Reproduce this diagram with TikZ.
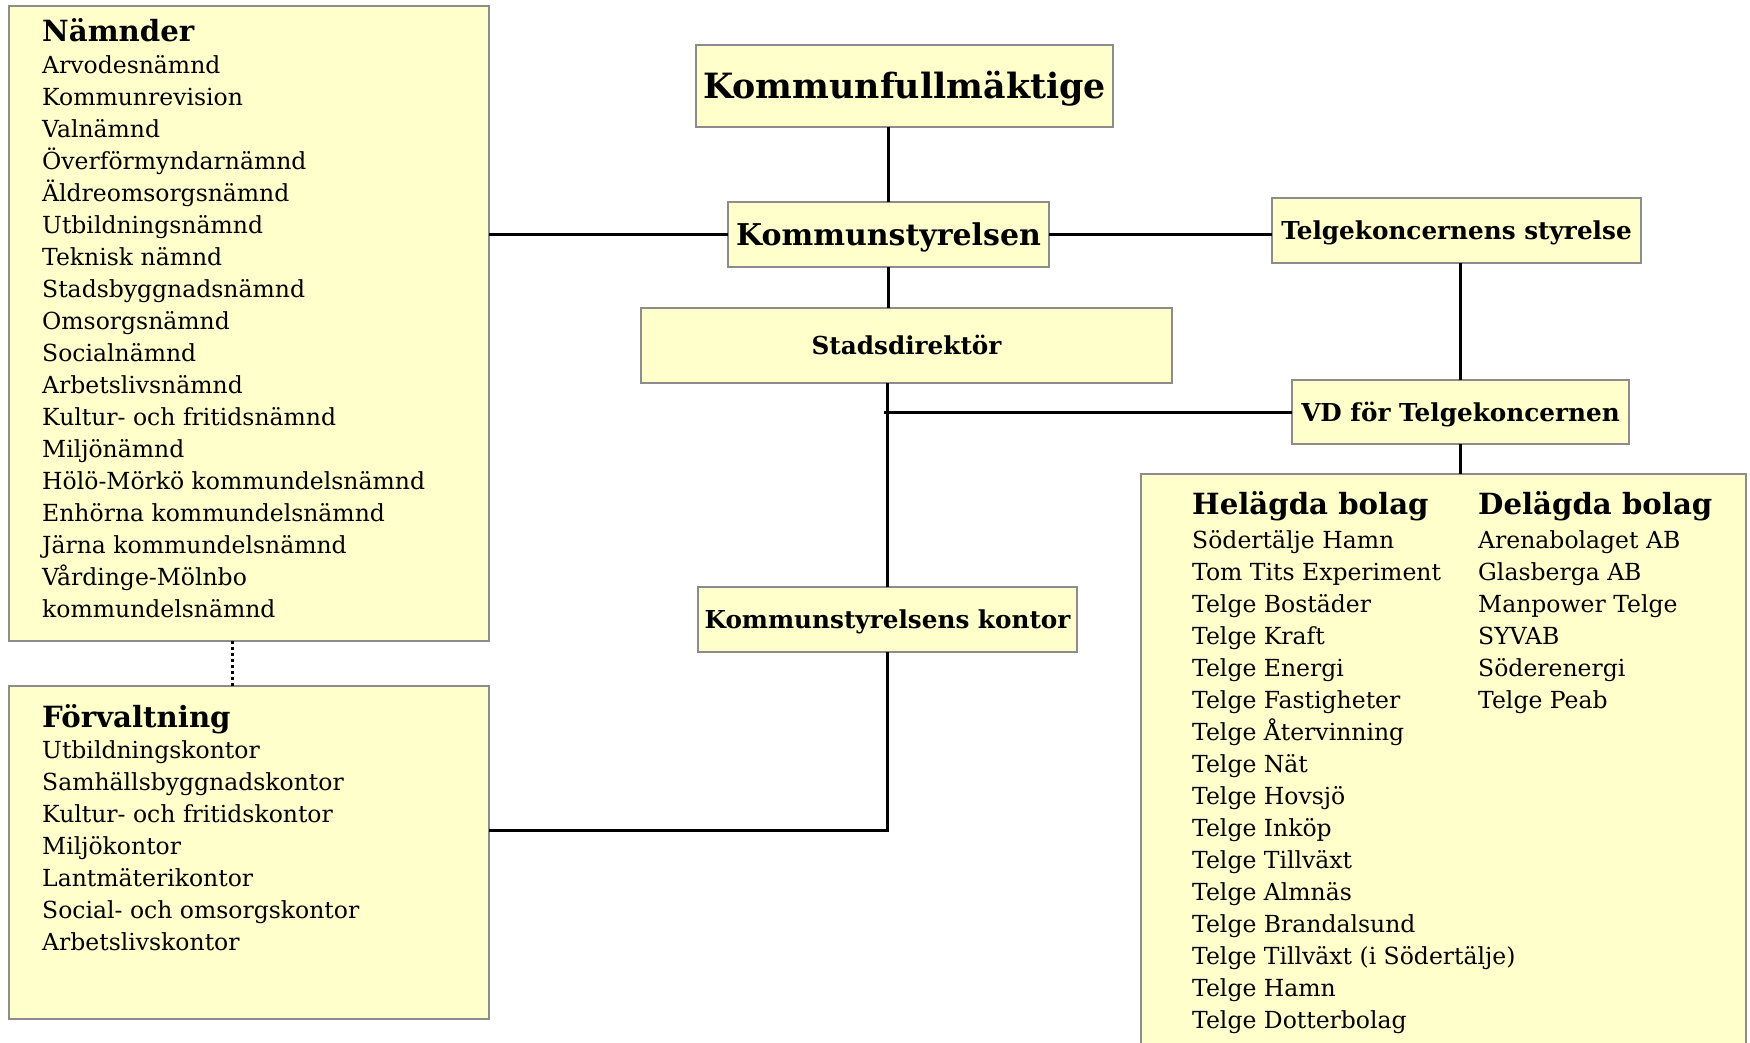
\documentclass[tikz,border=0pt]{standalone}
\usepackage{fontspec}
\setmainfont{DejaVu Serif}
\definecolor{boxfill}{HTML}{FFFFCC}
\definecolor{boxgray}{HTML}{8C8C8C}
\begin{document}
\begin{tikzpicture}[x=1pt,y=-1pt,
  box/.style={draw=boxgray, line width=2pt, fill=boxfill, inner sep=0pt, outer sep=0pt},
  conn/.style={line width=3pt, black},
  head/.style={font=\fontsize{29.2}{32}\selectfont\bfseries, anchor=base west, inner sep=0pt},
  item/.style={font=\fontsize{23.5}{32}\selectfont, anchor=base west, inner sep=0pt},
  midbold/.style={font=\fontsize{24.7}{30}\selectfont\bfseries, text height=18pt, text depth=0pt}
]
\useasboundingbox (0,0) rectangle (1750,1042);
\fill[white] (0,0) rectangle (1750,1042);

% boxes
\node[box, minimum width=480pt, minimum height=635pt] (namnder) at (249,323.5) {};
\node[box, minimum width=480pt, minimum height=333pt] (forv) at (249,852.5) {};
\node[box, minimum width=605pt, minimum height=600pt] (bolag) at (1443.5,774) {};

\node[box, minimum width=417pt, minimum height=82pt, font=\fontsize{34.8}{40}\selectfont\bfseries, text height=25.5pt, text depth=0pt] (kf) at (904.5,86) {Kommunfullmäktige};
\node[box, minimum width=321pt, minimum height=65pt, font=\fontsize{30}{34}\selectfont\bfseries, text height=22pt, text depth=0pt] (ks) at (888.5,234.5) {Kommunstyrelsen};
\node[box, midbold, minimum width=531pt, minimum height=75pt] (sd) at (906.5,345.5) {Stadsdirektör};
\node[box, midbold, minimum width=369pt, minimum height=65pt] (tks) at (1456.5,230.5) {Telgekoncernens styrelse};
\node[box, midbold, minimum width=337pt, minimum height=64pt] (vd) at (1460.5,412) {VD för Telgekoncernen};
\node[box, midbold, minimum width=379pt, minimum height=65pt] (kontor) at (887.5,619.5) {Kommunstyrelsens kontor};

% texts
\node[head] (namnder-h) at (42,41) {Nämnder};
\foreach \t [count=\i] in {Arvodesnämnd, Kommunrevision, Valnämnd, Överförmyndarnämnd, Äldreomsorgsnämnd, Utbildningsnämnd, Teknisk nämnd, Stadsbyggnadsnämnd, Omsorgsnämnd, Socialnämnd, Arbetslivsnämnd, Kultur- och fritidsnämnd, Miljönämnd, Hölö-Mörkö kommundelsnämnd, Enhörna kommundelsnämnd, Järna kommundelsnämnd, Vårdinge-Mölnbo, kommundelsnämnd}
  \node[item] (namnder-\i) at (42,{41+32*\i}) {\t};

\node[head] (forv-h) at (42,727) {Förvaltning};
\foreach \t [count=\i] in {Utbildningskontor, Samhällsbyggnadskontor, Kultur- och fritidskontor, Miljökontor, Lantmäterikontor, Social- och omsorgskontor, Arbetslivskontor}
  \node[item] (forv-\i) at (42,{726+32*\i}) {\t};

\node[head] (hel-h) at (1192,514) {Helägda bolag};
\foreach \t [count=\i] in {Södertälje Hamn, Tom Tits Experiment, Telge Bostäder, Telge Kraft, Telge Energi, Telge Fastigheter, Telge Återvinning, Telge Nät, Telge Hovsjö, Telge Inköp, Telge Tillväxt, Telge Almnäs, Telge Brandalsund, Telge Tillväxt (i Södertälje), Telge Hamn, Telge Dotterbolag}
  \node[item] (hel-\i) at (1192,{516+32*\i}) {\t};

\node[head] (del-h) at (1478,514) {Delägda bolag};
\foreach \t [count=\i] in {Arenabolaget AB, Glasberga AB, Manpower Telge, SYVAB, Söderenergi, Telge Peab}
  \node[item] (del-\i) at (1478,{516+32*\i}) {\t};

% connectors
\coordinate (tap) at (884,412);
\coordinate (fcorner) at (887.5,830);
\coordinate (dotx) at (232,0);
\draw[conn] (ks.north) -- (ks.north |- kf.south);
\draw[conn] (namnder.east |- ks.west) -- (ks.west);
\draw[conn] (ks.east) -- (ks.east -| tks.west);
\draw[conn] (ks.south) -- (ks.south |- sd.north);
\draw[conn] (vd.north) -- (vd.north |- tks.south);
\draw[conn] (kontor.north) -- (kontor.north |- sd.south);
\draw[conn] (vd.west) -- (tap |- vd.west);
\draw[conn] (vd.south) -- (vd.south |- bolag.north);
\draw[conn] (kontor.south) -- (fcorner) -- (fcorner -| forv.east);
\draw[line width=3pt, dash pattern=on 3pt off 3pt] (namnder.south -| dotx) -- (forv.north -| dotx);
\end{tikzpicture}
\end{document}
